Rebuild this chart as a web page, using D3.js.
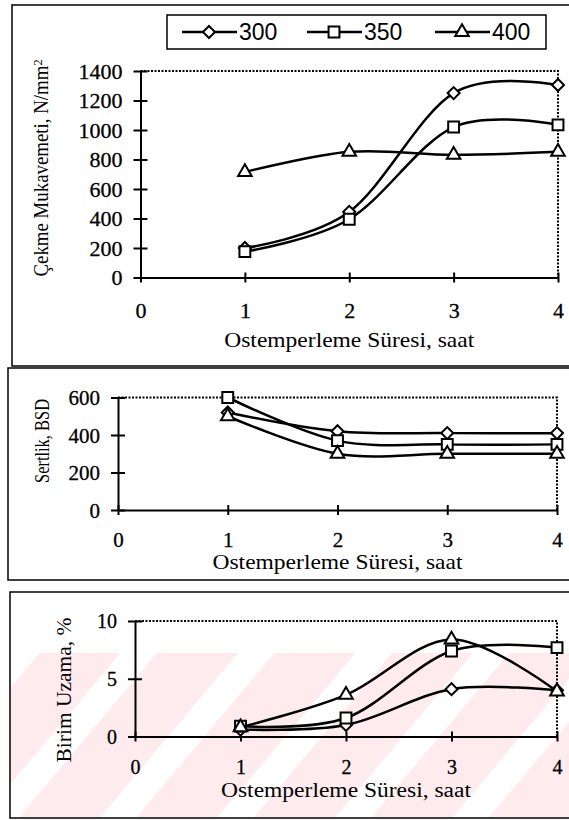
<!DOCTYPE html>
<html>
<head>
<meta charset="utf-8">
<script src="https://cdn.jsdelivr.net/npm/d3@7"></script>
<style>
  body { margin: 0; background: #fff; }
  svg { display: block; }
  .axis path, .axis line { stroke: #000; stroke-width: 2; }
  .axis text { font-family: "Liberation Serif", "Times New Roman", serif; fill: #000; stroke: #000; stroke-width: 0.3; }
  .title { font-family: "Liberation Serif", "Times New Roman", serif; fill: #000; }
</style>
</head>
<body>
<svg id="chart" width="569" height="820"></svg>
<script>
// ---- data ----
var hours = [1, 2, 3, 4];
var xTicks = [0, 1, 2, 3, 4];
var seriesNames = ["300", "350", "400"];
var symbols = ["diamond", "square", "triangle"];

var strength300 = [200, 445, 1250, 1305];
var strength350 = [175, 395, 1020, 1035];
var strength400 = [715, 852, 832, 852];
var strengthTicks = [0, 200, 400, 600, 800, 1000, 1200, 1400];

var hardness300 = [520, 420, 410, 410];
var hardness350 = [600, 370, 350, 350];
var hardness400 = [500, 300, 300, 300];
var hardnessTicks = [0, 200, 400, 600];

var elong300 = [0.6, 1.0, 4.1, 4.0];
var elong350 = [0.9, 1.6, 7.4, 7.7];
var elong400 = [0.8, 3.6, 8.4, 3.9];
var elongTicks = [0, 5, 10];

var svg = d3.select("#chart");

// watermark behind the bottom panel
var defs = svg.append("defs");
var pat = defs.append("pattern")
  .attr("id", "wm").attr("patternUnits", "userSpaceOnUse")
  .attr("width", 90).attr("height", 90)
  .attr("patternTransform", "rotate(40)");
pat.append("rect").attr("width", 62).attr("height", 90).attr("fill", "#fdebee");
svg.append("rect").attr("x", 11).attr("y", 653).attr("width", 558).attr("height", 164)
  .attr("fill", "url(#wm)");

// panel frames
var frames = [[12, 5, 600, 361], [8, 368, 600, 212], [10, 592, 600, 226]];
svg.selectAll(".frame").data(frames).enter().append("rect")
  .attr("class", "frame")
  .attr("x", function(d) { return d[0]; })
  .attr("y", function(d) { return d[1]; })
  .attr("width", function(d) { return d[2]; })
  .attr("height", function(d) { return d[3]; })
  .attr("fill", "none").attr("stroke", "#000").attr("stroke-width", 1.5);

function marker(sel, type) {
  if (type == "diamond") {
    sel.attr("d", d3.symbol(d3.symbolSquare, 72)());
  } else if (type == "square") {
    sel.attr("d", d3.symbol(d3.symbolSquare, 118)());
  } else {
    sel.attr("d", d3.symbol(d3.symbolTriangle, 80)());
  }
}

function drawPanel(cfg) {
  var g = svg.append("g");
  var x = d3.scaleLinear().domain([0, 4]).range([cfg.left, cfg.right]);
  var y = d3.scaleLinear().domain([0, cfg.ymax]).range([cfg.bottom, cfg.top]);

  // dotted top and right edge of plot area
  g.append("path")
    .attr("d", "M" + x(0) + "," + y(cfg.ymax) + "H" + x(4) + "V" + y(0))
    .attr("fill", "none").attr("stroke", "#000")
    .attr("stroke-width", 2).attr("stroke-dasharray", "2,1.5");

  var xa = g.append("g").attr("class", "axis")
    .attr("transform", "translate(0," + y(0) + ")")
    .call(d3.axisBottom(x).tickValues(xTicks).tickSizeOuter(0).tickFormat(d3.format("d")));
  xa.selectAll(".tick line").attr("y1", -5).attr("y2", 5);
  xa.selectAll(".tick text").attr("dy", null).attr("y", cfg.xLabelBase - y(0))
    .style("font-size", cfg.tickSize + "px");

  var ya = g.append("g").attr("class", "axis")
    .attr("transform", "translate(" + x(0) + ",0)")
    .call(d3.axisLeft(y).tickValues(cfg.ticks).tickSizeOuter(0).tickFormat(d3.format("d")));
  ya.selectAll(".tick line").attr("x1", 7).attr("x2", -7);
  ya.selectAll(".tick text").attr("x", -18).attr("dy", "0.34em")
    .style("font-size", cfg.tickSize + "px");

  var line = d3.line()
    .x(function(d, i) { return x(hours[i]); })
    .y(function(d) { return y(d); })
    .curve(d3.curveCardinal.tension(0));

  cfg.series.forEach(function(s, k) {
    g.append("path").attr("d", line(s))
      .attr("fill", "none").attr("stroke", "#000").attr("stroke-width", 2.5);
  });
  cfg.series.forEach(function(s, k) {
    g.selectAll(".m" + k).data(s).enter().append("path")
      .attr("class", "m" + k)
      .call(marker, symbols[k])
      .attr("transform", function(d, i) {
        return "translate(" + x(hours[i]) + "," + y(d) + ")" + (symbols[k] == "diamond" ? " rotate(45)" : "");
      })
      .attr("fill", "#fff").attr("stroke", "#000").attr("stroke-width", 2);
  });

  g.append("text").attr("class", "title")
    .attr("x", (cfg.left + cfg.right) / 2).attr("y", cfg.xTitleBase)
    .attr("text-anchor", "middle").style("font-size", cfg.xTitleSize + "px")
    .attr("textLength", 250).attr("lengthAdjust", "spacingAndGlyphs")
    .text("Ostemperleme Süresi, saat");

  var yt = g.append("text").attr("class", "title")
    .attr("transform", "translate(" + cfg.yTitleX + "," + cfg.yTitleY + ") rotate(-90)")
    .attr("text-anchor", "middle").style("font-size", cfg.yTitleSize + "px")
    .attr("textLength", cfg.yTitleLen).attr("lengthAdjust", "spacingAndGlyphs");
  yt.text(cfg.yTitle);
  if (cfg.sup) {
    yt.append("tspan").attr("dy", "-0.45em").style("font-size", "13px").text(cfg.sup);
  }
}

drawPanel({
  left: 140.5, right: 558, top: 71, bottom: 277.5, ymax: 1400,
  ticks: strengthTicks, series: [strength300, strength350, strength400],
  tickSize: 22, xLabelBase: 318, xTitleBase: 347, xTitleSize: 22,
  yTitle: "Çekme Mukavemeti, N/mm", sup: "2", yTitleX: 48, yTitleY: 168, yTitleSize: 20, yTitleLen: 217
});
drawPanel({
  left: 118, right: 557, top: 397.5, bottom: 510, ymax: 600,
  ticks: hardnessTicks, series: [hardness300, hardness350, hardness400],
  tickSize: 21, xLabelBase: 546.5, xTitleBase: 569, xTitleSize: 21,
  yTitle: "Sertlik, BSD", yTitleX: 49, yTitleY: 441, yTitleSize: 21, yTitleLen: 84
});
drawPanel({
  left: 135, right: 557, top: 621, bottom: 736.5, ymax: 10,
  ticks: elongTicks, series: [elong300, elong350, elong400],
  tickSize: 20, xLabelBase: 774, xTitleBase: 797, xTitleSize: 20,
  yTitle: "Birim Uzama, %", yTitleX: 71, yTitleY: 690, yTitleSize: 21, yTitleLen: 145
});

// legend
var lg = svg.append("g");
lg.append("rect").attr("x", 167).attr("y", 15).attr("width", 379).attr("height", 34)
  .attr("fill", "#fff").attr("stroke", "#000").attr("stroke-width", 1.5);
var legendX = [182, 307, 435];
seriesNames.forEach(function(name, k) {
  var lx = legendX[k];
  lg.append("line").attr("x1", lx).attr("x2", lx + 55).attr("y1", 32).attr("y2", 32)
    .attr("stroke", "#000").attr("stroke-width", 2.5);
  lg.append("path").call(marker, symbols[k])
    .attr("transform", "translate(" + (lx + 27) + ",32)" + (symbols[k] == "diamond" ? " rotate(45)" : ""))
    .attr("fill", "#fff").attr("stroke", "#000").attr("stroke-width", 2);
  lg.append("text").attr("x", lx + 57).attr("y", 40)
    .style("font-family", "'Liberation Sans', Arial, sans-serif").style("font-size", "23px")
    .text(name);
});
</script>
</body>
</html>
